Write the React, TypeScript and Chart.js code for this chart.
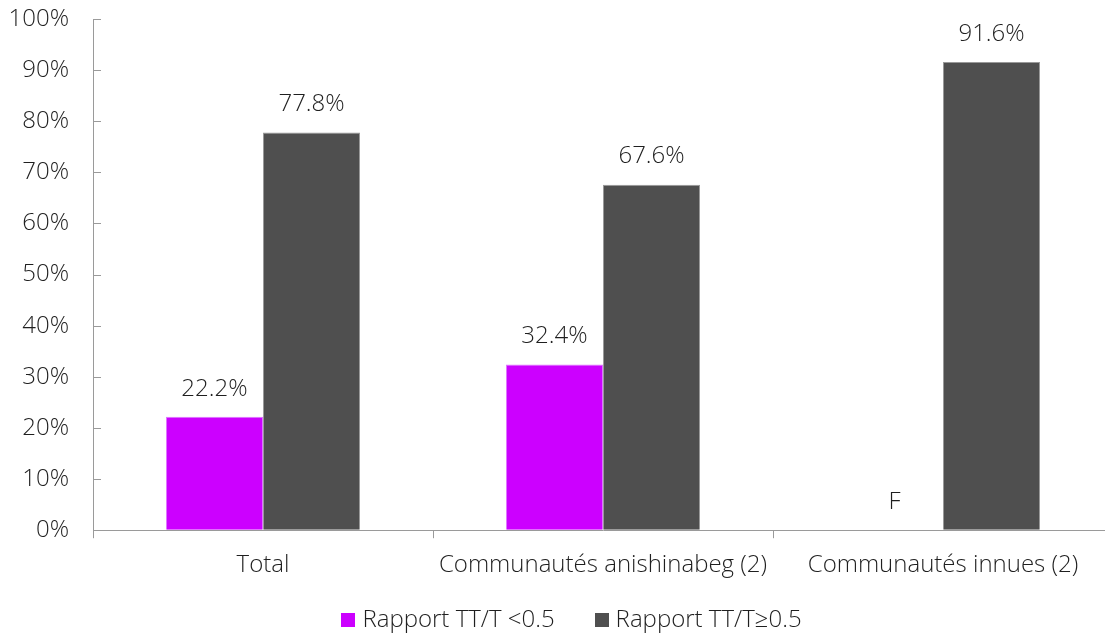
import React, { useEffect, useRef } from "react";
import { Chart, registerables } from "chart.js";

Chart.register(...registerables);

const categories = ["Total", "Communautés anishinabeg (2)", "Communautés innues (2)"];
const seriesNames = ["Rapport TT/T <0.5", "Rapport TT/T≥0.5"];
const lowRatio: (number | null)[] = [22.2, 32.4, null];
const highRatio: (number | null)[] = [77.8, 67.6, 91.6];
const suppressedLabel = "F";
const yTicks = [0, 10, 20, 30, 40, 50, 60, 70, 80, 90, 100];

const FONT = "'Open Sans', 'DejaVu Sans', sans-serif";
const FONT_SIZE = 24;
const TEXT = "#1f1f1f";
const AXIS = "#9a9a9a";

// Short tick marks pointing into the plot from the y axis
const innerYTicks = {
  id: "innerYTicks",
  afterDraw(chart: any) {
    const y = chart.scales.y;
    const left = chart.chartArea.left;
    const ctx = chart.ctx;
    ctx.save();
    ctx.strokeStyle = AXIS;
    ctx.lineWidth = 1;
    y.ticks.forEach((_t: any, i: number) => {
      const py = Math.round(y.getPixelForTick(i)) + 0.5;
      ctx.beginPath();
      ctx.moveTo(left, py);
      ctx.lineTo(left + 8, py);
      ctx.stroke();
    });
    ctx.restore();
  },
};

// Value labels above each bar; missing values show the suppression mark
const valueLabels = {
  id: "valueLabels",
  afterDatasetsDraw(chart: any) {
    const ctx = chart.ctx;
    const yScale = chart.scales.y;
    ctx.save();
    ctx.font = `300 ${FONT_SIZE}px ${FONT}`;
    ctx.fillStyle = TEXT;
    ctx.textAlign = "center";
    ctx.textBaseline = "middle";
    chart.data.datasets.forEach((ds: any, di: number) => {
      const meta = chart.getDatasetMeta(di);
      meta.data.forEach((bar: any, i: number) => {
        const v = ds.data[i];
        const top = v == null ? yScale.getPixelForValue(0) : bar.y;
        const text = v == null ? suppressedLabel : `${v.toFixed(1)}%`;
        ctx.fillText(text, bar.x, top - 28);
      });
    });
    ctx.restore();
  },
};

// Legend row centred under the chart, built from the dataset labels and colours
const bottomLegend = {
  id: "bottomLegend",
  afterDraw(chart: any) {
    const ctx = chart.ctx;
    ctx.save();
    ctx.font = `300 ${FONT_SIZE}px ${FONT}`;
    const box = 14;
    const gap = 7;
    const spacing = 40;
    const items = chart.data.datasets.map((ds: any) => ({
      text: ds.label as string,
      color: ds.backgroundColor as string,
      w: ctx.measureText(ds.label).width,
    }));
    const total =
      items.reduce((s: number, it: any) => s + box + gap + it.w, 0) + spacing * (items.length - 1);
    let x = chart.width / 2 - total / 2;
    const cy = chart.height - 15;
    ctx.textBaseline = "middle";
    ctx.textAlign = "left";
    items.forEach((it: any) => {
      ctx.fillStyle = it.color;
      ctx.fillRect(Math.round(x), Math.round(cy - box / 2), box, box);
      x += box + gap;
      ctx.fillStyle = TEXT;
      ctx.fillText(it.text, x, cy);
      x += it.w + spacing;
    });
    ctx.restore();
  },
};

export default function App() {
  const ref = useRef<HTMLCanvasElement | null>(null);

  useEffect(() => {
    if (!ref.current) return;
    const chart = new Chart(ref.current, {
      type: "bar",
      data: {
        labels: categories,
        datasets: [
          {
            label: seriesNames[0],
            data: lowRatio,
            backgroundColor: "#cc00ff",
            borderColor: "#dd77ff",
            borderWidth: 1,
          },
          {
            label: seriesNames[1],
            data: highRatio,
            backgroundColor: "#4f4f4f",
            borderColor: "#999999",
            borderWidth: 1,
          },
        ],
      },
      options: {
        animation: false,
        responsive: true,
        maintainAspectRatio: false,
        layout: { padding: { top: 19, left: 0, right: 30, bottom: 42 } },
        datasets: {
          bar: { categoryPercentage: 0.571, barPercentage: 1.0 },
        },
        scales: {
          x: {
            grid: {
              display: true,
              drawOnChartArea: false,
              drawTicks: true,
              tickLength: 8,
              color: AXIS,
              offset: true,
            },
            border: { display: true, color: AXIS, width: 1 },
            ticks: {
              color: TEXT,
              font: { family: FONT, size: FONT_SIZE, weight: "300" },
              padding: 13,
              maxRotation: 0,
            },
          },
          y: {
            min: 0,
            max: 100,
            afterBuildTicks(scale: any) {
              scale.ticks = yTicks.map((v) => ({ value: v }));
            },
            afterFit(scale: any) {
              scale.width = 93;
              scale.paddingTop = 0;
              scale.paddingBottom = 0;
            },
            grid: { display: true, drawOnChartArea: false, drawTicks: false },
            border: { display: true, color: AXIS, width: 1 },
            ticks: {
              color: TEXT,
              font: { family: FONT, size: FONT_SIZE, weight: "300" },
              padding: 24,
              callback: (v: any) => `${v}%`,
            },
          },
        },
        plugins: {
          legend: { display: false },
          tooltip: { enabled: false },
        },
      },
      plugins: [innerYTicks, valueLabels, bottomLegend],
    });
    return () => chart.destroy();
  }, []);

  return (
    <div style={{ position: "fixed", left: 0, top: 0, width: 1143, height: 635, background: "#fff" }}>
      <canvas ref={ref} />
    </div>
  );
}
